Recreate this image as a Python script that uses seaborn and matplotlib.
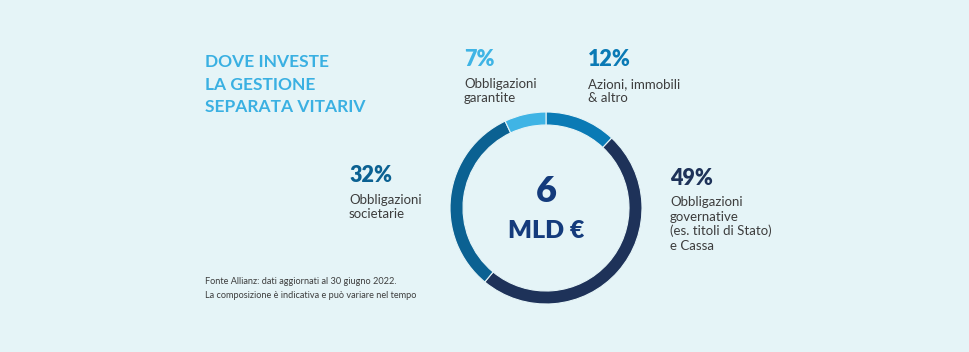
import matplotlib
matplotlib.use("Agg")
import matplotlib.pyplot as plt
import seaborn as sns

sns.set_theme(style="white")
plt.rcParams['font.family'] = ['Lato', 'DejaVu Sans']

# Data (clockwise from 12 o'clock)
categories = ["Azioni, immobili\n& altro",
              "Obbligazioni\ngovernative\n(es. titoli di Stato)\ne Cassa",
              "Obbligazioni\nsocietarie",
              "Obbligazioni\ngarantite"]
values = [12, 49, 32, 7]
pct_labels = ["12%", "49%", "32%", "7%"]
colors = ["#0a7ab5", "#1e3259", "#0b6192", "#3fb4e5"]

BG = "#e5f4f7"
W, H = 970, 352
fig = plt.figure(figsize=(W / 100, H / 100), dpi=100, facecolor=BG)

def fx(x):
    return x / W

def fy(y):
    return 1 - y / H

# donut
cx, cy, r = 546, 208, 96
size = 220
ax = fig.add_axes([fx(cx - size / 2), fy(cy + size / 2), size / W, size / H])
ax.set_facecolor(BG)
ax.pie(values, colors=colors, startangle=90, counterclock=False,
       radius=r / (size / 2),
       wedgeprops=dict(width=13 / (size / 2), edgecolor=BG, linewidth=0.8))
ax.set_xlim(-1, 1)
ax.set_ylim(-1, 1)
ax.set_aspect("equal")
ax.axis("off")

center_col = "#143b7c"
fig.text(fx(cx), fy(192), "6", ha="center", va="center", fontsize=26,
         fontweight="heavy", color=center_col)
fig.text(fx(cx), fy(231), "MLD €", ha="center", va="center", fontsize=18,
         fontweight="heavy", color=center_col)

# title
title_col = "#3ab0e2"
for i, line in enumerate(["DOVE INVESTE", "LA GESTIONE", "SEPARATA VITARIV"]):
    fig.text(fx(205), fy(62 + i * 22.5), line, ha="left", va="center",
             fontsize=12.5, fontweight="bold", color=title_col)

# labels: (x, y of pct, order index)
label_pos = {0: (588, 60), 1: (670, 178), 2: (349, 176), 3: (464, 60)}
text_col = "#3d3d3d"
for i, (x, y) in label_pos.items():
    fig.text(fx(x), fy(y), pct_labels[i], ha="left", va="center",
             fontsize=15.5, fontweight="heavy", color=colors[i])
    for j, line in enumerate(categories[i].split("\n")):
        fig.text(fx(x), fy(y + 24 + j * 14.5), line, ha="left", va="center",
                 fontsize=9.5, color=text_col)

# footnote
fig.text(fx(205), fy(282), "Fonte Allianz: dati aggiornati al 30 giugno 2022.",
         ha="left", va="center", fontsize=6.6, color=text_col)
fig.text(fx(205), fy(295), "La composizione è indicativa e può variare nel tempo",
         ha="left", va="center", fontsize=6.6, color=text_col)

fig.savefig("out.png", dpi=100, facecolor=BG)
